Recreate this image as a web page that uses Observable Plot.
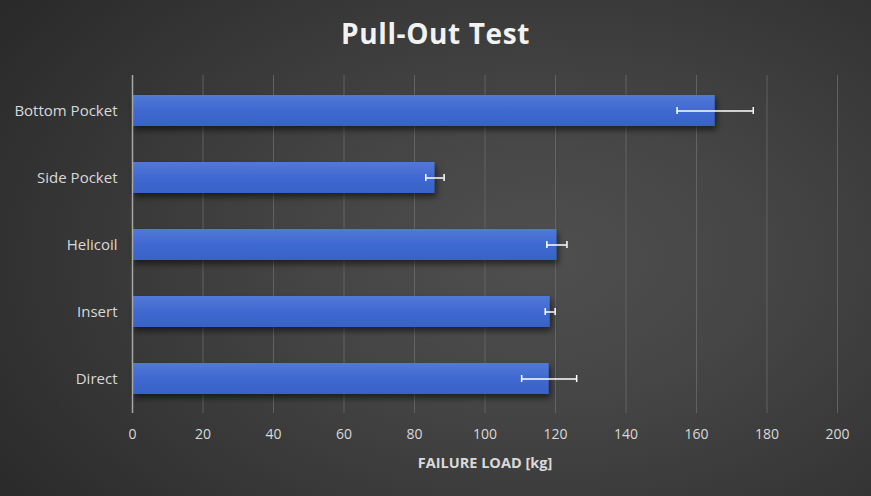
<!DOCTYPE html>
<html>
<head>
<meta charset="utf-8">
<script src="https://cdn.jsdelivr.net/npm/d3@7"></script>
<script src="https://cdn.jsdelivr.net/npm/@observablehq/plot@0.6"></script>
<style>
  html, body { margin: 0; padding: 0; }
  #chart {
    width: 871px; height: 496px; overflow: hidden;
    background: radial-gradient(ellipse 75% 85% at 62% 52%, #4f4f4f 0%, #454545 35%, #2a2a2a 100%);
    font-family: "Open Sans", "Liberation Sans", sans-serif;
  }
  #title {
    height: 60px; line-height: 66px; text-align: center;
    color: #f2f2f2; font-size: 28px; font-weight: bold; letter-spacing: 0.6px;
  }
  #chart svg { display: block; background: transparent; }
</style>
</head>
<body>
<div id="chart">
  <div id="title">Pull-Out Test</div>
</div>
<script>
const categories = ["Bottom Pocket", "Side Pocket", "Helicoil", "Insert", "Direct"];
const failureLoad = [165.3, 85.8, 120.4, 118.5, 118.2];
const errorMargin = [10.8, 2.6, 2.85, 1.4, 7.8];
const xTicks = [0, 20, 40, 60, 80, 100, 120, 140, 160, 180, 200];
const axisTitle = "FAILURE LOAD [kg]";

const data = categories.map((c, i) => ({
  cat: c, v: failureLoad[i], lo: failureLoad[i] - errorMargin[i], hi: failureLoad[i] + errorMargin[i]
}));

const ns = "http://www.w3.org/2000/svg";
function defs() {
  const d = document.createElementNS(ns, "defs");
  d.innerHTML = `
    <linearGradient id="barGrad" x1="0" y1="0" x2="0" y2="1">
      <stop offset="0" stop-color="#5279d8"/>
      <stop offset="0.5" stop-color="#3f69d0"/>
      <stop offset="1" stop-color="#3862c6"/>
    </linearGradient>
    <filter id="shadow" x="-5%" y="-30%" width="115%" height="190%">
      <feDropShadow dx="2" dy="4" stdDeviation="3" flood-color="#000" flood-opacity="0.55"/>
    </filter>`;
  return d;
}

const plot = Plot.plot({
  width: 871,
  height: 436,
  marginTop: 15,
  marginBottom: 83,
  marginLeft: 132,
  marginRight: 34,
  style: { background: "transparent", fontFamily: "'Open Sans', 'Liberation Sans', sans-serif", fontSize: "14px", color: "#d9d9d9" },
  x: { domain: [0, 200], ticks: xTicks, label: null },
  y: { domain: categories, paddingInner: 0.54, paddingOuter: 0.27, label: null },
  marks: [
    defs,
    Plot.gridX(xTicks.filter(t => t > 0), { stroke: "#6a6a6a", strokeOpacity: 0.8, strokeWidth: 1 }),
    Plot.axisX({ ticks: xTicks, tickSize: 0, tickPadding: 16, fill: "#d9d9d9", fontSize: 14, label: null }),
    Plot.axisY({ tickSize: 0, tickPadding: 15, fill: "#d9d9d9", fontSize: 15, label: null }),
    Plot.barX(data, { y: "cat", x: "v", fill: "url(#barGrad)" }),
    Plot.ruleX([0], { stroke: "#a6a6a6", strokeWidth: 1.5 }),
    Plot.ruleY(data, { y: "cat", x1: "lo", x2: "hi", stroke: "#ffffff", strokeWidth: 1.5 }),
    Plot.tickX(data, { y: "cat", x: "lo", stroke: "#ffffff", strokeWidth: 1.5, insetTop: 12, insetBottom: 12 }),
    Plot.tickX(data, { y: "cat", x: "hi", stroke: "#ffffff", strokeWidth: 1.5, insetTop: 12, insetBottom: 12 }),
    Plot.text([axisTitle], { frameAnchor: "bottom", dy: 50, lineAnchor: "middle", fontWeight: "bold", fontSize: 14.5, fill: "#d9d9d9" })
  ]
});

plot.querySelectorAll("g[aria-label='bar'] rect").forEach(r => r.setAttribute("filter", "url(#shadow)"));
document.getElementById("chart").appendChild(plot);
</script>
</body>
</html>
